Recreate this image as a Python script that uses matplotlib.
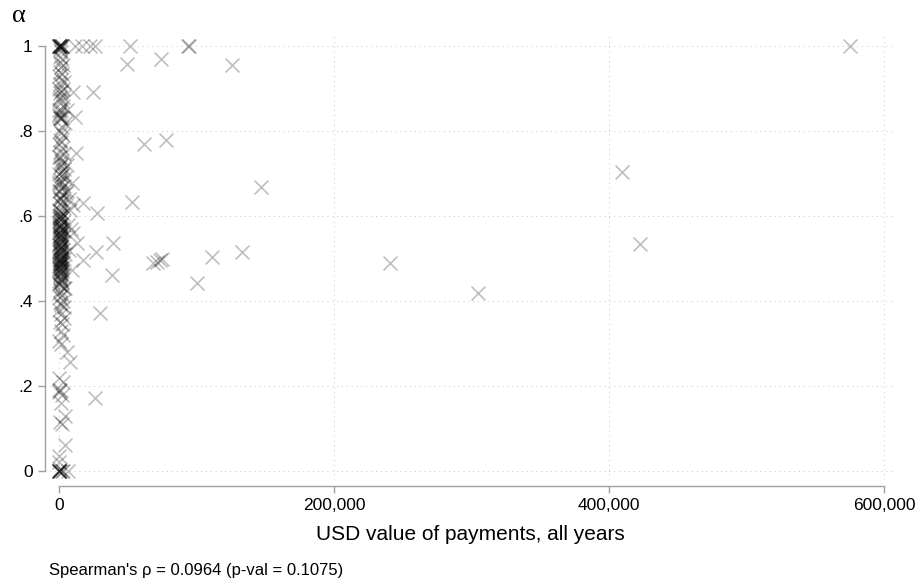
import matplotlib
matplotlib.use("Agg")
import matplotlib.pyplot as plt
import numpy as np

plt.rcParams['font.family'] = ['Liberation Sans', 'DejaVu Sans']

# payments spread out along the x axis (USD, alpha)
wide_x = [11600, 16700, 22500, 26200, 51600, 93800, 94500, 575300,
          49500, 74000, 126000, 10200, 24500, 11600, 5600, 61800, 77800,
          12400, 146900, 9200, 52900, 27400, 17700, 39000, 26900, 17700,
          38300, 12900, 9200, 68600, 71500, 73500, 75000, 111000, 132900,
          100600, 240700, 305000, 409200, 422200, 29800, 26200, 8000, 4400,
          6500, 6500, 8500, 10500, 7500, 8000, 7000, 10000, 6000, 4000]
wide_y = [1.0, 1.0, 1.0, 1.0, 1.0, 1.0, 1.0, 1.0,
          0.957, 0.969, 0.956, 0.892, 0.892, 0.834, 0.849, 0.769, 0.780,
          0.749, 0.669, 0.677, 0.634, 0.606, 0.630, 0.537, 0.516, 0.496,
          0.461, 0.536, 0.473, 0.489, 0.492, 0.496, 0.500, 0.504, 0.516,
          0.442, 0.489, 0.420, 0.704, 0.533, 0.371, 0.171, 0.257, 0.061,
          0.0, 0.580, 0.570, 0.560, 0.520, 0.615, 0.640, 0.625, 0.660, 0.430]

# small payments piled up next to zero
near_x = [0, 300, 600, 900, 1200, 1500, 2000, 2500, 500, 1000,
          1500, 800, 2200, 400, 3000, 1200, 600, 2500, 100, 1800, 3500, 900, 200, 2800,
          1400, 700, 2600, 300, 1900, 3200, 1100, 500, 0, 200, 2400, 1600, 800, 4000,
          2100, 400, 1300, 3000, 700, 1700, 0, 2500, 1000, 3800, 500, 1500, 2200,
          6000, 900, 3300, 1900, 2600, 100, 1200, 4500, 700, 2000, 300, 3600, 1400, 800, 5000,
          2300, 1000, 600, 2900, 400, 1700, 3400, 200, 1100, 2700,
          0, 1300, 500, 2400, 800, 3100, 200, 1800, 600, 2100, 1000, 3500, 300, 1500,
          700, 2600, 400, 1200, 3000, 900, 0, 2200, 1600, 500, 2800, 100, 1400, 4200,
          700, 1900, 300, 2500, 1100, 3700, 600, 1700, 200, 2300, 800, 3200, 1300, 0,
          2000, 500, 1000, 2700, 400, 1500,
          1200, 2400, 300, 1800, 3300, 700, 0, 2100, 1000, 2900, 500, 1600, 3800, 200,
          2600, 600, 1400, 3100, 0, 900,
          1800, 3500, 400, 2200, 1100, 2800, 0, 1600, 5500, 300, 3000, 0, 900,
          0, 2500, 1300, 4000, 500, 2000, 300, 0, 1000, 2000, 0, 500, 300, 3000,
          # second layer in the busiest band
          0, 400, 800, 1200, 200, 600, 1000, 1400, 0, 300, 700, 1100, 1500, 100, 500,
          900, 1300, 0, 200, 600, 1000, 1400, 300, 700, 1100, 0, 400, 800, 1200, 100,
          500, 900, 0, 300, 700, 1100, 200, 600, 0, 400,
          0, 200, 400, 100, 0, 300]
near_y = [1.0, 1.0, 1.0, 1.0, 1.0, 1.0, 1.0, 1.0, 0.995, 0.99,
          0.985, 0.975, 0.97, 0.96, 0.955, 0.95, 0.94, 0.935, 0.93, 0.92, 0.915, 0.91, 0.90, 0.90,
          0.895, 0.89, 0.88, 0.875, 0.87, 0.86, 0.85, 0.845, 0.84, 0.835, 0.83, 0.83, 0.83, 0.82,
          0.81, 0.80, 0.795, 0.79, 0.78, 0.775, 0.77, 0.76, 0.75, 0.745, 0.74, 0.73, 0.725,
          0.72, 0.715, 0.71, 0.705, 0.70, 0.70, 0.695, 0.69, 0.685, 0.68, 0.675, 0.67, 0.665, 0.66, 0.655,
          0.65, 0.645, 0.64, 0.635, 0.63, 0.625, 0.62, 0.615, 0.61, 0.605,
          0.60, 0.60, 0.598, 0.595, 0.59, 0.585, 0.58, 0.578, 0.575, 0.57, 0.568, 0.565, 0.56, 0.558,
          0.555, 0.55, 0.548, 0.545, 0.54, 0.538, 0.535, 0.53, 0.528, 0.525, 0.52, 0.518, 0.515, 0.51,
          0.508, 0.505, 0.50, 0.50, 0.50, 0.498, 0.495, 0.49, 0.49, 0.488, 0.485, 0.48, 0.478, 0.475,
          0.47, 0.468, 0.465, 0.46, 0.455, 0.45,
          0.448, 0.445, 0.44, 0.435, 0.43, 0.425, 0.42, 0.415, 0.41, 0.40, 0.395, 0.39, 0.385, 0.38,
          0.57, 0.55, 0.52, 0.49, 0.48, 0.46,
          0.37, 0.36, 0.35, 0.345, 0.33, 0.32, 0.305, 0.30, 0.28, 0.22, 0.21, 0.19, 0.19,
          0.185, 0.18, 0.16, 0.13, 0.115, 0.11, 0.035, 0.02, 0.005, 0.0, 0.0, 0.0, 0.0, 0.0,
          0.612, 0.602, 0.592, 0.582, 0.572, 0.562, 0.552, 0.542, 0.532, 0.522, 0.512, 0.502, 0.492,
          0.482, 0.472, 0.462, 0.452, 0.442, 0.586, 0.566, 0.546, 0.526, 0.506, 0.486, 0.466,
          0.596, 0.576, 0.556, 0.536, 0.516, 0.496, 0.476, 0.68, 0.66, 0.64, 0.72, 0.74, 0.83,
          0.85, 0.88,
          1.0, 1.0, 1.0, 0.0, 0.0, 0.0]

payments = np.array(wide_x + near_x)
alpha_vals = np.array(wide_y + near_y)

xticks = [0, 200000, 400000, 600000]
yticks = [0, 0.2, 0.4, 0.6, 0.8, 1.0]
ytick_labels = ['0', '.2', '.4', '.6', '.8', '1']

fig = plt.figure(figsize=(9.17, 5.79), dpi=100)
ax = fig.add_axes([45/917, 1 - 480/579, 851/917, 445/579])

ax.scatter(payments, alpha_vals, marker='x', s=100, linewidths=1.2,
           color='black', alpha=0.25, zorder=3)

ax.set_xlim(-10182, 608727)
ax.set_ylim(-0.0212, 1.026)

grid_kw = dict(color='#c4c4c4', lw=0.7, ls=(0, (1, 4)), zorder=1)
for xv in xticks:
    ax.axvline(xv, **grid_kw)
for yv in yticks:
    ax.axhline(yv, **grid_kw)

ax.set_xticks(xticks)
ax.set_xticklabels(['{:,}'.format(v) for v in xticks])
ax.set_yticks(yticks)
ax.set_yticklabels(ytick_labels)

for side in ['top', 'right']:
    ax.spines[side].set_visible(False)
ax.spines['left'].set_bounds(0, 1)
ax.spines['bottom'].set_bounds(0, 600000)
ax.spines['bottom'].set_position(('outward', 4.3))
for side in ['left', 'bottom']:
    ax.spines[side].set_color('#a0a0a0')
    ax.spines[side].set_linewidth(1.0)

ax.tick_params(axis='both', colors='#a0a0a0', labelcolor='black', length=5,
               width=1.0, labelsize=12.5, pad=4)

ax.set_xlabel('USD value of payments, all years', fontsize=15, labelpad=8)
fig.text(12/917, 1 - 22/579, 'α', fontsize=19, family='Liberation Serif')
fig.text(49/917, 1 - 575/579, "Spearman's ρ = 0.0964 (p-val = 0.1075)", fontsize=12)

fig.savefig('out.png', dpi=100)
